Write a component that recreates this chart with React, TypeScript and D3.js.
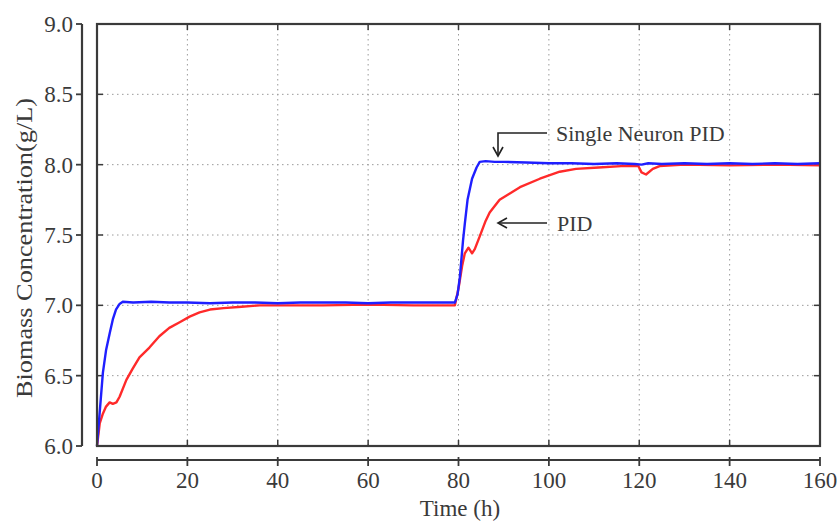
import * as d3 from 'd3';

// time axis ticks
const xTicks = [0, 20, 40, 60, 80, 100, 120, 140, 160];
const yTicks = [6.0, 6.5, 7.0, 7.5, 8.0, 8.5, 9.0];

// Single Neuron PID (blue)
const snTime = [0, 0.5, 1.3, 2, 2.8, 3.5, 4.2, 5, 5.7, 8, 12, 16, 20, 25, 30, 35, 40, 45, 50, 55, 60, 65, 70, 75, 79.2,
  79.8, 80.3, 81, 81.4, 82, 83, 84, 84.7, 86, 88, 90, 95, 100, 105, 110, 115, 119, 120.5, 122, 125, 130, 135, 140, 145, 150, 155, 160];
const snValue = [6.0, 6.2, 6.52, 6.68, 6.8, 6.9, 6.97, 7.01, 7.025, 7.02, 7.025, 7.02, 7.02, 7.015, 7.02, 7.02, 7.015, 7.02, 7.02, 7.02, 7.015, 7.02, 7.02, 7.02, 7.02,
  7.08, 7.2, 7.46, 7.58, 7.75, 7.9, 7.98, 8.02, 8.025, 8.02, 8.02, 8.015, 8.01, 8.01, 8.005, 8.01, 8.005, 8.0, 8.01, 8.005, 8.01, 8.005, 8.01, 8.005, 8.01, 8.005, 8.01];

// PID (red)
const pidTime = [0, 0.6, 1.3, 2, 2.8, 3.5, 4.3, 5, 6.5, 7.9, 9.4, 11.6, 13.8, 16, 18.3, 20.5, 22.7, 25, 28, 32, 36, 40, 50, 60, 70, 79.2,
  80, 80.8, 81.4, 82.2, 83, 83.6, 84.7, 86, 86.9, 89.1, 93.6, 98, 102.4, 106, 111, 116, 119.8, 120.5, 121.5, 123, 124.5, 130, 140, 150, 160];
const pidValue = [6.0, 6.16, 6.23, 6.28, 6.31, 6.3, 6.31, 6.35, 6.47, 6.55, 6.63, 6.7, 6.78, 6.84, 6.88, 6.92, 6.95, 6.97, 6.98, 6.99, 7.0, 7.0, 7.0, 7.005, 7.0, 7.0,
  7.12, 7.28, 7.37, 7.41, 7.37, 7.4, 7.49, 7.6, 7.66, 7.75, 7.84, 7.9, 7.95, 7.97, 7.98, 7.99, 7.99, 7.945, 7.93, 7.97, 7.99, 8.0, 7.995, 8.0, 7.995];

const W = 839;
const H = 521;
const left = 97, right = 820, top = 24, bottom = 446;
const font = '"Liberation Serif", "Times New Roman", serif';
const ink = '#3a3a3a';

export default function App() {
  const x = d3.scaleLinear().domain([0, 160]).range([left, right]);
  const y = d3.scaleLinear().domain([6, 9]).range([bottom, top]);

  const line = d3.line<[number, number]>()
    .x(d => x(d[0]))
    .y(d => y(d[1]))
    .curve(d3.curveLinear);

  const snPts: [number, number][] = snTime.map((t, i) => [t, snValue[i]]);
  const pidPts: [number, number][] = pidTime.map((t, i) => [t, pidValue[i]]);

  const innerX = xTicks.slice(1, -1);
  const innerY = yTicks.slice(1, -1);

  return (
    <svg width={W} height={H} style={{ display: 'block', position: 'absolute', left: 0, top: 0, background: '#fff' }}>
      {/* grid */}
      <g stroke="#9a9a9a" strokeWidth={1} strokeDasharray="1.5,3.5">
        {innerX.map(t => <line key={'gx' + t} x1={x(t)} x2={x(t)} y1={top} y2={bottom} />)}
        {innerY.map(v => <line key={'gy' + v} x1={left} x2={right} y1={y(v)} y2={y(v)} />)}
      </g>

      {/* inner ticks on the box */}
      <g stroke={ink} strokeWidth={1.5}>
        {innerX.map(t => (
          <g key={'tx' + t}>
            <line x1={x(t)} x2={x(t)} y1={bottom} y2={bottom - 6} />
            <line x1={x(t)} x2={x(t)} y1={top} y2={top + 6} />
          </g>
        ))}
        {innerY.map(v => (
          <g key={'ty' + v}>
            <line x1={left} x2={left + 6} y1={y(v)} y2={y(v)} />
            <line x1={right} x2={right - 6} y1={y(v)} y2={y(v)} />
          </g>
        ))}
      </g>

      {/* series */}
      <path d={line(pidPts) || ''} fill="none" stroke="#ff2a2a" strokeWidth={2.4} strokeLinejoin="round" />
      <path d={line(snPts) || ''} fill="none" stroke="#1f1fff" strokeWidth={2.4} strokeLinejoin="round" />

      {/* plot box */}
      <rect x={left} y={top} width={right - left} height={bottom - top} fill="none" stroke={ink} strokeWidth={2.2} />

      {/* detached left axis */}
      <line x1={82} x2={82} y1={top} y2={bottom} stroke={ink} strokeWidth={2.2} />
      {yTicks.map(v => (
        <g key={'yl' + v}>
          <line x1={82} x2={76} y1={y(v)} y2={y(v)} stroke={ink} strokeWidth={1.8} />
          <text x={73} y={y(v)} dy="0.35em" textAnchor="end" fontFamily={font} fontSize={23} fill={ink}>
            {v.toFixed(1)}
          </text>
        </g>
      ))}

      {/* detached bottom axis */}
      <line x1={left} x2={right} y1={460} y2={460} stroke={ink} strokeWidth={2.2} />
      {xTicks.map(t => (
        <g key={'xl' + t}>
          <line x1={x(t)} x2={x(t)} y1={457} y2={466} stroke={ink} strokeWidth={1.8} />
          <text x={x(t)} y={488} textAnchor="middle" fontFamily={font} fontSize={23} fill={ink}>{t}</text>
        </g>
      ))}

      {/* axis titles */}
      <text x={460} y={516} textAnchor="middle" fontFamily={font} fontSize={23} fill={ink}>Time (h)</text>
      <text transform="translate(32,248) rotate(-90)" textAnchor="middle" fontFamily={font} fontSize={24}
        textLength={300} lengthAdjust="spacingAndGlyphs" fill={ink}>
        Biomass Concentration(g/L)
      </text>

      {/* annotations */}
      <g stroke="#222" strokeWidth={1.6} fill="none">
        <path d="M547,133 H498 V155" />
        <path d="M493,147 L498,156 L503,147" />
        <path d="M547,223 H499" />
        <path d="M507,218 L498,223 L507,228" />
      </g>
      <text x={556} y={141} fontFamily={font} fontSize={22} fill={ink}>Single Neuron PID</text>
      <text x={557} y={231} fontFamily={font} fontSize={22} fill={ink}>PID</text>
    </svg>
  );
}
